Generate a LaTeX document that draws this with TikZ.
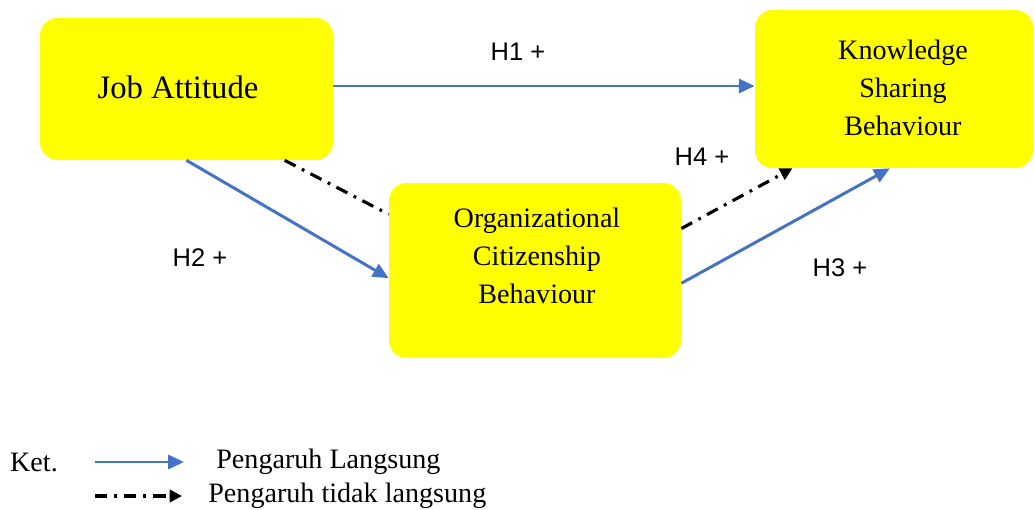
\documentclass[tikz,border=0pt]{standalone}
\usepackage{fontspec}
\setmainfont{Liberation Serif}
\setsansfont{Liberation Sans}
\usetikzlibrary{arrows.meta}
\definecolor{boxyellow}{RGB}{255,255,0}
\definecolor{linkblue}{RGB}{68,114,196}

\begin{document}
\begin{tikzpicture}[x=0.02cm,y=-0.02cm,
  varbox/.style={fill=boxyellow,rounded corners=10pt,inner sep=0pt},
  boxtext/.style={align=center,font=\fontsize{16}{21.6}\selectfont},
  hyp/.style={font=\sffamily\fontsize{14.5}{17}\selectfont},
  direct/.style={linkblue,line width=1.7pt,-{Triangle[length=9pt,width=8pt]}},
  indirect/.style={black,line width=1.8pt,dash pattern=on 7pt off 4pt on 1.6pt off 4pt}]
\useasboundingbox (0,0) rectangle (1035,510);
%\draw[step=50,gray,very thin] (0,0) grid (1035,510); %background grid

% boxes
\node[varbox,minimum width=5.86cm,minimum height=2.84cm] (ja) at (186.5,89) {};
\node[varbox,minimum width=5.56cm,minimum height=3.16cm] (ksb) at (894,89) {};
\node[varbox,minimum width=5.84cm,minimum height=3.5cm] (ocb) at (535,270.5) {};

\node[font=\fontsize{18.6}{22}\selectfont] (jatext) at (178,87) {Job Attitude};
\node[boxtext] (ksbtext) at (903,88) {Knowledge\\Sharing\\Behaviour};
\node[boxtext] (ocbtext) at (537,256) {Organizational\\Citizenship\\Behaviour};

% hypotheses
\draw[direct] ([yshift=0.06cm]ja.east) -- ([yshift=0.06cm]ksb.west);
\draw[direct] (ja.south) -- (ocb.183);
\draw[indirect] (ja.-36) -- (ocb.159);
\draw[indirect,-{Triangle[length=7pt,width=7pt]}] (ocb.16) -- (ksb.218);
\draw[direct] (ocb.-5) -- (ksb.267);

\node[hyp] (h1) at (518,52) {H1 +};
\node[hyp] (h2) at (200,258) {H2 +};
\node[hyp] (h4) at (702,157) {H4 +};
\node[hyp] (h3) at (840,268) {H3 +};

% legend
\node[boxtext] (ket) at (34,462) {Ket.};
\coordinate (la) at (95,462);
\coordinate (lb) at (184,462);
\coordinate (lc) at (95,496);
\coordinate (ld) at (182,496);
\draw[direct] (la) -- (lb);
\draw[indirect,-{Triangle[length=7pt,width=7pt]}] (lc) -- (ld);
\node[boxtext,anchor=west,inner sep=0pt] (ltext1) at (216,462) {Pengaruh Langsung};
\node[boxtext,anchor=west,inner sep=0pt] (ltext2) at (208,496) {Pengaruh tidak langsung};
\end{tikzpicture}
\end{document}
